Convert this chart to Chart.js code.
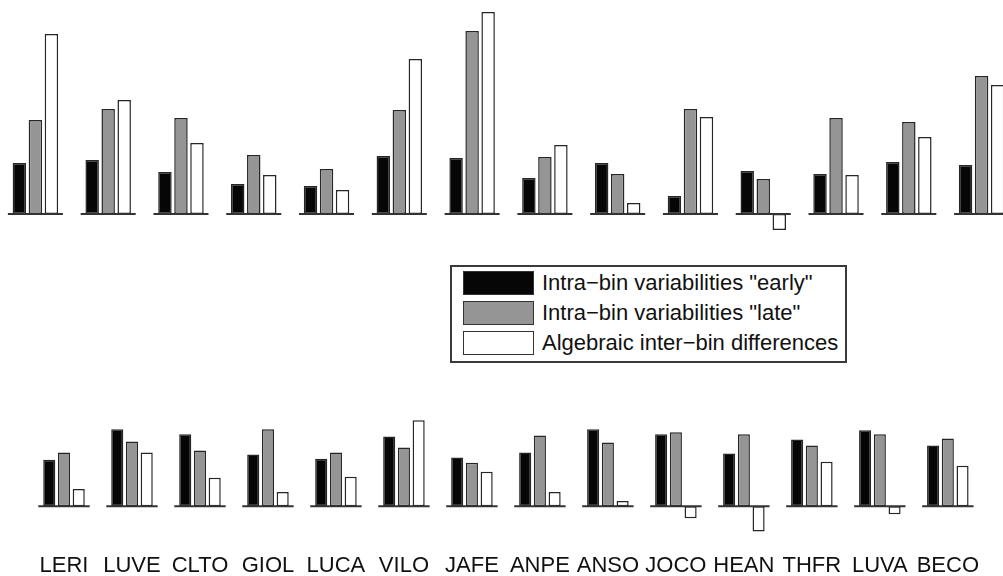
<!DOCTYPE html>
<html>
<head>
<meta charset="utf-8">
<script src="https://cdn.jsdelivr.net/npm/chart.js@4.4.1/dist/chart.umd.min.js"></script>
<style>
  html, body { margin: 0; padding: 0; overflow: hidden; background: #fff; width: 1003px; height: 576px; }
  #top-wrap { position: absolute; left: -1px; top: 0; }
  #bottom-wrap { position: absolute; left: 30px; top: 400px; }
  #legend {
    position: absolute; left: 450px; top: 265px; width: 397px; height: 98px;
    box-sizing: border-box; border: 2px solid #3a3a3a; background: #fff;
    font-family: "Liberation Sans", Arial, sans-serif; font-size: 22px; color: #111;
  }
  .lg-row { position: absolute; left: 11px; height: 24px; }
  .lg-box { position: absolute; left: 0; top: 0; width: 71px; height: 24px; box-sizing: border-box; border: 1.5px solid #333; }
  .lg-text { position: absolute; left: 79px; top: 0; line-height: 24px; white-space: nowrap; }
</style>
</head>
<body>
<div id="top-wrap"><canvas id="top-chart" width="1019" height="250"></canvas></div>
<div id="legend"></div>
<div id="bottom-wrap"><canvas id="bottom-chart" width="953" height="183"></canvas></div>
<script>
const categories = ["LERI", "LUVE", "CLTO", "GIOL", "LUCA", "VILO", "JAFE", "ANPE", "ANSO", "JOCO", "HEAN", "THFR", "LUVA", "BECO"];
const seriesNames = ['Intra\u2212bin variabilities "early"', 'Intra\u2212bin variabilities "late"', 'Algebraic inter\u2212bin differences'];
const seriesColors = ["#060606", "#959595", "#ffffff"];

// upper panel
const topEarly = [51, 54, 42, 30, 28, 58, 56, 36, 51, 18, 43, 40, 52, 49];
const topLate  = [94, 105, 96, 59, 45, 104, 183, 57, 40, 105, 35, 96, 92, 138];
const topDiff  = [180, 114, 71, 39, 24, 155, 202, 69, 11, 97, -16, 39, 77, 129];

// lower panel
const bottomEarly = [46, 76, 71, 51, 47, 69, 48, 53, 76, 71, 52, 66, 75, 60];
const bottomLate  = [53, 64, 55, 76, 53, 58, 43, 70, 63, 73, 71, 60, 71, 67];
const bottomDiff  = [17, 53, 28, 14, 29, 85, 34, 14, 5, -12, -25, 44, -8, 40];

// short baseline under each group of bars
const groupBaselines = {
  id: "groupBaselines",
  afterDatasetsDraw(chart) {
    const { ctx } = chart;
    const x = chart.scales.x, y = chart.scales.y;
    const y0 = y.getPixelForValue(0);
    const half = (x.getPixelForValue(1) - x.getPixelForValue(0)) * 0.378;
    ctx.save();
    ctx.strokeStyle = "#333";
    ctx.lineWidth = 2;
    chart.data.labels.forEach((_, i) => {
      const cx = x.getPixelForValue(i);
      ctx.beginPath();
      ctx.moveTo(cx - half, y0);
      ctx.lineTo(cx + half, y0);
      ctx.stroke();
    });
    ctx.restore();
  },
};

const makeDatasets = (series, catPct, barPct) => series.map((data, i) => ({
  label: seriesNames[i],
  data,
  backgroundColor: seriesColors[i],
  borderColor: "#262626",
  borderWidth: 1.5,
  borderSkipped: false,
  categoryPercentage: catPct,
  barPercentage: barPct,
}));

function buildChart(id, series, opts) {
  return new Chart(document.getElementById(id), {
    type: "bar",
    data: { labels: categories, datasets: makeDatasets(series, opts.catPct, opts.barPct) },
    options: {
      responsive: false, animation: false,
      layout: { padding: 0 },
      scales: {
        x: {
          display: opts.showLabels,
          grid: { display: false, drawTicks: false },
          border: { display: false },
          ticks: {
            autoSkip: false, maxRotation: 0, minRotation: 0, padding: 4, color: "#111",
            font: { family: "'Liberation Sans', Arial, sans-serif", size: 22 },
          },
        },
        y: { display: false, min: opts.yMin, max: opts.yMax },
      },
      plugins: { legend: { display: false }, tooltip: { enabled: false } },
    },
    plugins: [groupBaselines],
  });
}

buildChart("top-chart", [topEarly, topLate, topDiff], { catPct: 0.66, barPct: 0.84, yMin: -36, yMax: 214, showLabels: false });
buildChart("bottom-chart", [bottomEarly, bottomLate, bottomDiff], { catPct: 0.65, barPct: 0.82, yMin: -42, yMax: 105, showLabels: true });

// legend built from the series definitions
const legend = document.getElementById("legend");
seriesNames.forEach((name, i) => {
  const row = document.createElement("div");
  row.className = "lg-row";
  row.style.top = `${4 + i * 30}px`;
  const box = document.createElement("div");
  box.className = "lg-box";
  box.style.background = seriesColors[i];
  const txt = document.createElement("div");
  txt.className = "lg-text";
  txt.textContent = name;
  row.appendChild(box); row.appendChild(txt);
  legend.appendChild(row);
});
</script>
</body>
</html>
